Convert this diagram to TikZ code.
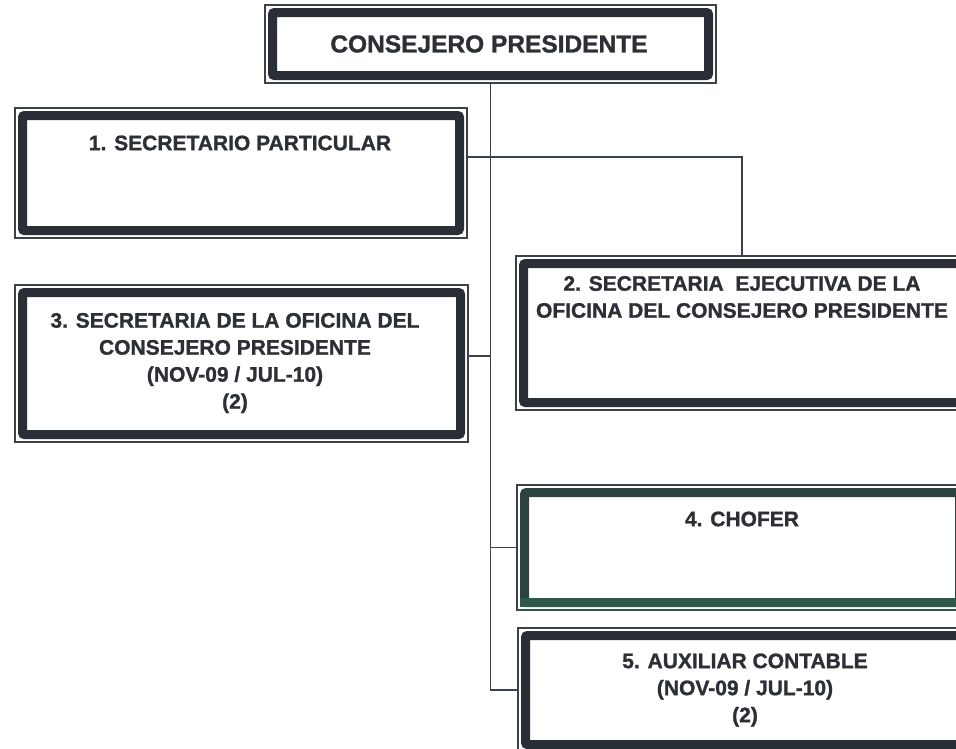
\documentclass[tikz,border=0pt]{standalone}
\usepackage{fontspec}
\setmainfont{Liberation Sans}[BoldFeatures={FakeBold=1.2}]
\definecolor{bandc}{HTML}{2A2E37}
\definecolor{thinc}{HTML}{3B404A}
\definecolor{txtc}{HTML}{2C2F36}
\definecolor{connc}{HTML}{3A4152}
\definecolor{bandg}{HTML}{2E5847}
\definecolor{bandgd}{HTML}{2C4240}
\begin{document}
\begin{tikzpicture}[x=1pt,y=-1pt,
  outerbox/.style={draw=thinc, line width=1.3pt, fill=white, inner sep=0pt, outer sep=0pt, anchor=north west},
  band/.style={draw=bandc, line width=9pt, rounded corners=2pt},
  conn/.style={draw=connc, line width=1.5pt},
  lbl/.style={text=txtc, align=center, font=\fontsize{21}{27}\selectfont\bfseries, inner sep=0pt},
  lbltop/.style={text=txtc, font=\fontsize{24.5}{30}\selectfont\bfseries, inner sep=0pt}]
\path[use as bounding box] (0,0) rectangle (956,748);
\clip (0,0) rectangle (956,748);
\fill[white] (0,0) rectangle (956,748);

% named box frames
\node[outerbox, minimum width=451pt, minimum height=78pt] (top) at (265,5) {};
\node[outerbox, minimum width=452pt, minimum height=130pt] (b1) at (15,108) {};
\node[outerbox, minimum width=453pt, minimum height=157pt] (b3) at (15,285) {};
\node[outerbox, minimum width=452pt, minimum height=154pt] (b2) at (516,256) {};
\node[outerbox, minimum width=450pt, minimum height=125pt] (b4) at (517,485) {};
\node[outerbox, minimum width=454pt, minimum height=124pt] (b5) at (518,628) {};

% connectors
\draw[conn] (top.south) |- (b5.west);
\draw[conn] ([yshift=16pt]b1.east) -| (b2.north);
\draw[conn] ([yshift=7.5pt]b3.east) coordinate (c3) -- (c3 -| top.south);
\draw[conn] (b4.west) -- (b4.west -| top.south);

% thick bands
\foreach \n in {top,b1,b3,b2,b5}{
  \draw[band] ([shift={(7.5pt,-7.5pt)}]\n.north west) rectangle ([shift={(-7.5pt,7.5pt)}]\n.south east);
}
\draw[band, draw=bandgd] ([shift={(7.5pt,-7.5pt)}]b4.north west) rectangle ([shift={(-7.5pt,7.5pt)}]b4.south east);
\draw[draw=bandg, line width=9pt] ([shift={(3pt,7.5pt)}]b4.south west) -- ([shift={(-3pt,7.5pt)}]b4.south east);
\draw[draw=bandg, line width=1.3pt] (b4.south west) -- (b4.south east);

% labels
\node[lbltop] (ttop) at (489,44) {CONSEJERO PRESIDENTE};
\node[lbl] (t1) at (240,143) {1. SECRETARIO PARTICULAR};
\node[lbl] (t3) at (235,363) {3. SECRETARIA DE LA OFICINA DEL\\CONSEJERO PRESIDENTE\\(NOV-09 / JUL-10)\\(2)};
\node[lbl] (t2) at (742,297) {2. SECRETARIA\ \ EJECUTIVA DE LA\\OFICINA DEL CONSEJERO PRESIDENTE};
\node[lbl] (t4) at (742,519) {4. CHOFER};
\node[lbl] (t5) at (745,690) {5. AUXILIAR CONTABLE\\(NOV-09 / JUL-10)\\(2)};
\end{tikzpicture}
\end{document}
